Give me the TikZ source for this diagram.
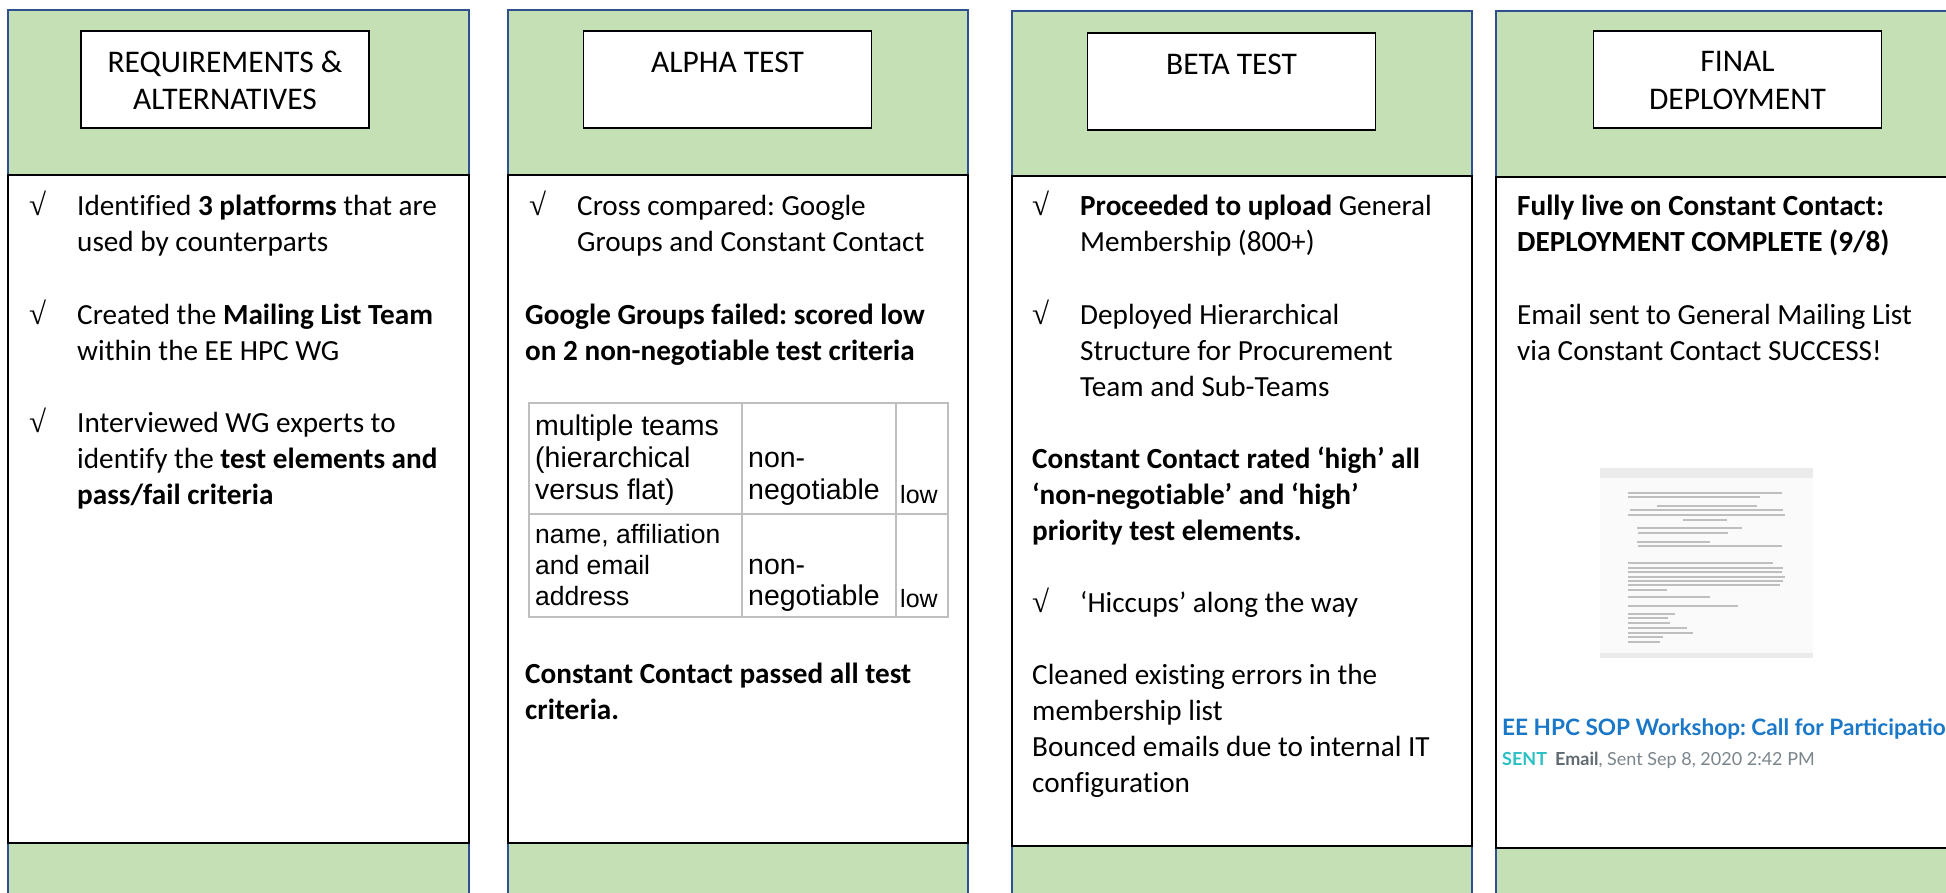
\documentclass[tikz,border=0pt]{standalone}
\usepackage{fontspec}
\setmainfont{Carlito}[RawFeature=-liga]
\newfontfamily\arialf{Liberation Sans}
\newfontfamily\symf{Liberation Serif}
\newfontfamily\ccf{Lato}
\frenchspacing
\definecolor{hdrgreen}{HTML}{C5E0B4}
\definecolor{frameblue}{HTML}{2F528F}
\definecolor{tblgray}{HTML}{BFBFBF}
\definecolor{ccblue}{HTML}{1B78C8}
\definecolor{ccteal}{HTML}{2BC0C4}
\definecolor{ccgray}{HTML}{5F6A72}
\definecolor{ccgraylt}{HTML}{7A858C}
\tikzset{
  colframe/.style={frameblue, line width=2pt},
  colbody/.style={fill=white, draw=black, line width=1.5pt},
  tbox/.style={draw=black, fill=white, line width=1.3pt, inner sep=0pt, minimum width=288pt, minimum height=97pt},
  ttl/.style={anchor=base, inner sep=0pt, font=\fontsize{31.5}{37}\selectfont},
  bodytxt/.style={anchor=base west, inner sep=0pt, font=\fontsize{29.2}{36}\selectfont},
  chk/.style={anchor=base west, inner sep=0pt, font=\symf\fontsize{31}{34}\selectfont},
  cell/.style={anchor=base west, inner sep=0pt, font=\arialf\fontsize{28.5}{32}\selectfont},
  cellsm/.style={anchor=base west, inner sep=0pt, font=\arialf\fontsize{26.5}{30}\selectfont},
  celllow/.style={anchor=base west, inner sep=0pt, font=\arialf\fontsize{25}{30}\selectfont},
  tbl/.style={draw=tblgray, line width=2.2pt},
  docline/.style={draw=black!25, line width=1.7pt},
  cctitle/.style={anchor=base west, inner sep=0pt, font=\ccf\bfseries\fontsize{22.6}{26}\selectfont, text=ccblue},
  ccsub/.style={anchor=base west, inner sep=0pt, font=\ccf\fontsize{18}{22}\selectfont, text=ccgraylt},
}
\begin{document}
\begin{tikzpicture}[x=1pt,y=-1pt]
\useasboundingbox (0,0) rectangle (1946,893);
\clip (0,0) rectangle (1946,893);
\fill[white] (0,0) rectangle (1946,893);

% ---------- column frames ----------
% col 1
\fill[hdrgreen] (8,10) rectangle (469,900);
\draw[colframe] (8,900) -- (8,10) -- (469,10) -- (469,900);
\draw[colbody] (8,175) rectangle (469,843);
% col 2
\fill[hdrgreen] (508,10) rectangle (968,900);
\draw[colframe] (508,900) -- (508,10) -- (968,10) -- (968,900);
\draw[colbody] (508,175) rectangle (968,843);
% col 3
\fill[hdrgreen] (1012,11) rectangle (1472,900);
\draw[colframe] (1012,900) -- (1012,11) -- (1472,11) -- (1472,900);
\draw[colbody] (1012,176) rectangle (1472,846);
% col 4
\fill[hdrgreen] (1496,11) rectangle (1960,900);
\draw[colframe] (1496,900) -- (1496,11) -- (1960,11);
\draw[colbody] (1496,177) rectangle (1960,848);

% ---------- title boxes ----------
\node[tbox] (t1) at (225,79.5) {};
\node[tbox] (t2) at (727.5,79.5) {};
\node[tbox] (t3) at (1231.5,81.5) {};
\node[tbox] (t4) at (1737.5,79.5) {};
\node[ttl] (t1a) at (225,73) {REQUIREMENTS \&};
\node[ttl] (t1b) at (225,110) {ALTERNATIVES};
\node[ttl] (t2a) at (727.5,73) {ALPHA TEST};
\node[ttl] (t3a) at (1231.5,75) {BETA TEST};
\node[ttl] (t4a) at (1737.5,72) {FINAL};
\node[ttl] (t4b) at (1737.5,110) {DEPLOYMENT};

% ---------- column 1 ----------
\node[chk] (k1a) at (29,216) {√};
\node[bodytxt] (c1a1) at (77,216) {Identified \textbf{3 platforms} that are};
\node[bodytxt] (c1a2) at (77,252) {used by counterparts};
\node[chk] (k1b) at (29,324) {√};
\node[bodytxt] (c1b1) at (77,324) {Created the \textbf{Mailing List Team}};
\node[bodytxt] (c1b2) at (77,360) {within the EE HPC WG};
\node[chk] (k1c) at (29,432) {√};
\node[bodytxt] (c1c1) at (77,432) {Interviewed WG experts to};
\node[bodytxt] (c1c2) at (77,468) {identify the \textbf{test elements and}};
\node[bodytxt] (c1c3) at (77,504) {\textbf{pass/fail criteria}};

% ---------- column 2 ----------
\node[chk] (k2a) at (529,216) {√};
\node[bodytxt] (c2a1) at (577,216) {Cross compared: Google};
\node[bodytxt] (c2a2) at (577,252) {Groups and Constant Contact};
\node[bodytxt] (c2b1) at (525,324) {\textbf{Google Groups failed: scored low}};
\node[bodytxt] (c2b2) at (525,360) {\textbf{on 2 non-negotiable test criteria}};
% table
\draw[tbl] (529,403) rectangle (948,617);
\draw[tbl] (742,403) -- (742,617);
\draw[tbl] (896,403) -- (896,617);
\draw[tbl] (529,514) -- (948,514);
\node[cell] (r1a1) at (535,435) {multiple teams};
\node[cell] (r1a2) at (535,467) {(hierarchical};
\node[cell] (r1a3) at (535,499) {versus flat)};
\node[cell] (r1b1) at (748,467) {non-};
\node[cell] (r1b2) at (748,499) {negotiable};
\node[celllow] (r1c) at (900,503) {low};
\node[cellsm] (r2a1) at (535,543) {name, affiliation};
\node[cellsm] (r2a2) at (535,574) {and email};
\node[cellsm] (r2a3) at (535,605) {address};
\node[cell] (r2b1) at (748,574) {non-};
\node[cell] (r2b2) at (748,605) {negotiable};
\node[celllow] (r2c) at (900,607) {low};
\node[bodytxt] (c2c1) at (525,683) {\textbf{Constant Contact passed all test}};
\node[bodytxt] (c2c2) at (525,719) {\textbf{criteria.}};

% ---------- column 3 ----------
\node[chk] (k3a) at (1032,216) {√};
\node[bodytxt] (c3a1) at (1080,216) {\textbf{Proceeded to upload} General};
\node[bodytxt] (c3a2) at (1080,252) {Membership (800+)};
\node[chk] (k3b) at (1032,324) {√};
\node[bodytxt] (c3b1) at (1080,324) {Deployed Hierarchical};
\node[bodytxt] (c3b2) at (1080,360) {Structure for Procurement};
\node[bodytxt] (c3b3) at (1080,396) {Team and Sub-Teams};
\node[bodytxt] (c3c1) at (1032,468) {\textbf{Constant Contact rated ‘high’ all}};
\node[bodytxt] (c3c2) at (1032,504) {\textbf{‘non-negotiable’ and ‘high’}};
\node[bodytxt] (c3c3) at (1032,540) {\textbf{priority test elements.}};
\node[chk] (k3d) at (1032,612) {√};
\node[bodytxt] (c3d1) at (1080,612) {‘Hiccups’ along the way};
\node[bodytxt] (c3e1) at (1032,684) {Cleaned existing errors in the};
\node[bodytxt] (c3e2) at (1032,720) {membership list};
\node[bodytxt] (c3e3) at (1032,756) {Bounced emails due to internal IT};
\node[bodytxt] (c3e4) at (1032,792) {configuration};

% ---------- column 4 ----------
\node[bodytxt] (c4a1) at (1517,216) {\textbf{Fully live on Constant Contact:}};
\node[bodytxt] (c4a2) at (1517,252) {\textbf{DEPLOYMENT COMPLETE (9/8)}};
\node[bodytxt] (c4b1) at (1517,324) {Email sent to General Mailing List};
\node[bodytxt] (c4b2) at (1517,360) {via Constant Contact SUCCESS!};
% email thumbnail
\fill[black!2] (1600,468) rectangle (1813,658);
\fill[black!8] (1600,468) rectangle (1813,478);
\fill[black!8] (1600,653) rectangle (1813,658);
\foreach \ya/\xa/\xb in {493/1628/1782, 497/1628/1760, 506/1657/1757, 510/1630/1783, 515/1628/1785, 520/1683/1727,
  528/1637/1742, 533/1638/1728, 542/1637/1710, 546/1638/1782, 563/1628/1773, 568/1628/1783, 572/1628/1782,
  577/1628/1785, 581/1628/1783, 585/1628/1780, 590/1628/1667, 597/1628/1710, 606/1628/1738, 614/1628/1675,
  618/1628/1668, 623/1628/1670, 628/1628/1687, 633/1628/1693, 637/1628/1663, 642/1628/1660}
  {\draw[docline] (\xa,\ya) -- (\xb,\ya);}
\node[cctitle] (cct) at (1502,735) {EE HPC SOP Workshop: Call for Participation};
\node[ccsub] (ccs) at (1502,765) {{\bfseries\color{ccteal}SENT}\hspace{8pt}{\bfseries\color{ccgray}Email}, Sent Sep 8, 2020 2:42 PM};
\end{tikzpicture}
\end{document}
